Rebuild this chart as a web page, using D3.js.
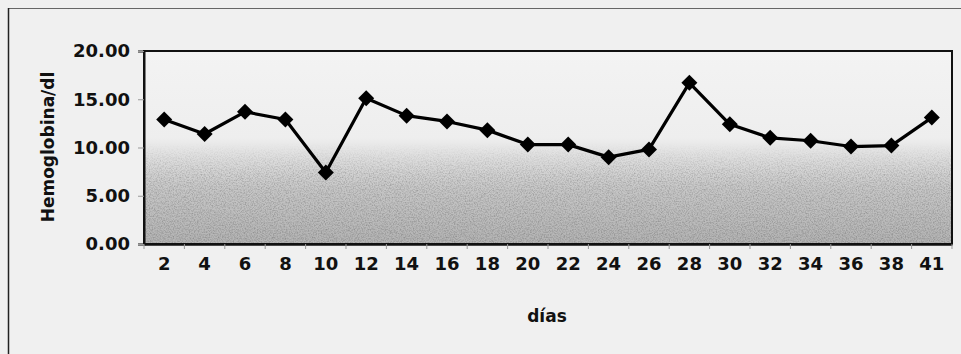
<!DOCTYPE html>
<html>
<head>
<meta charset="utf-8">
<script src="https://cdn.jsdelivr.net/npm/d3@7"></script>
<style>
  html, body { margin: 0; padding: 0; background: #f0f0f0; }
  svg { display: block; }
  text { font-family: "DejaVu Sans", "Liberation Sans", Arial, sans-serif; font-weight: bold; fill: #111; }
</style>
</head>
<body>
<script>
// Hemoglobin readings (g/dl) by day
const dias = ["2", "4", "6", "8", "10", "12", "14", "16", "18", "20", "22", "24", "26", "28", "30", "32", "34", "36", "38", "41"];
const hemoglobina = [12.9, 11.4, 13.7, 12.9, 7.4, 15.1, 13.3, 12.7, 11.8, 10.3, 10.3, 9.0, 9.8, 16.7, 12.4, 11.0, 10.7, 10.1, 10.2, 13.1];
const yTicks = [0, 5, 10, 15, 20];
const xTitle = "días";
const yTitle = "Hemoglobina/dl";

const W = 961, H = 354;
const plot = { left: 144, right: 952, top: 51, bottom: 244 };

const svg = d3.select("body").append("svg").attr("width", W).attr("height", H);
const defs = svg.append("defs");

// background gradient of the plot area: pale on top, darker grey at the base
const bg = defs.append("linearGradient").attr("id", "bgGrad")
  .attr("x1", 0).attr("y1", 0).attr("x2", 0).attr("y2", 1);
[[0, "#f3f3f3"], [0.45, "#eeeeee"], [0.55, "#dedede"], [0.72, "#c6c6c6"], [1, "#b3b3b3"]]
  .forEach(([o, c]) => bg.append("stop").attr("offset", o).attr("stop-color", c));

// mask strength for the speckled grain (stronger toward the bottom)
const gm = defs.append("linearGradient").attr("id", "grainGrad")
  .attr("x1", 0).attr("y1", 0).attr("x2", 0).attr("y2", 1);
[[0, 0], [0.48, 0], [0.65, 0.65], [1, 1]]
  .forEach(([o, a]) => gm.append("stop").attr("offset", o).attr("stop-color", "#000").attr("stop-opacity", a));

const grain = defs.append("filter").attr("id", "grain")
  .attr("x", 0).attr("y", 0).attr("width", 1).attr("height", 1);
grain.append("feTurbulence").attr("type", "fractalNoise").attr("baseFrequency", 0.75)
  .attr("numOctaves", 2).attr("seed", 7).attr("result", "noise");
grain.append("feColorMatrix").attr("in", "noise").attr("type", "matrix")
  .attr("values", "0 0 0 0 0.25  0 0 0 0 0.25  0 0 0 0 0.25  1.9 0 0 0 -0.74").attr("result", "speck");
grain.append("feComposite").attr("in", "speck").attr("in2", "SourceAlpha").attr("operator", "in");

// outer frame
svg.append("line").attr("x1", 8).attr("x2", W).attr("y1", 8.5).attr("y2", 8.5)
  .attr("stroke", "#666").attr("stroke-width", 1.2);
svg.append("line").attr("x1", 8.5).attr("x2", 8.5).attr("y1", 8).attr("y2", H)
  .attr("stroke", "#222").attr("stroke-width", 1.5);

const x = d3.scaleBand().domain(dias).range([plot.left, plot.right]).padding(0);
const y = d3.scaleLinear().domain([0, 20]).range([plot.bottom, plot.top]);

// plot area fill
svg.append("rect").attr("x", plot.left).attr("y", plot.top)
  .attr("width", plot.right - plot.left).attr("height", plot.bottom - plot.top)
  .attr("fill", "url(#bgGrad)");
svg.append("rect").attr("x", plot.left).attr("y", plot.top)
  .attr("width", plot.right - plot.left).attr("height", plot.bottom - plot.top)
  .attr("fill", "url(#grainGrad)").attr("filter", "url(#grain)");

// plot border
svg.append("rect").attr("x", plot.left).attr("y", plot.top)
  .attr("width", plot.right - plot.left).attr("height", plot.bottom - plot.top)
  .attr("fill", "none").attr("stroke", "#111").attr("stroke-width", 2);

// y axis
const yAxis = svg.append("g").attr("transform", `translate(${plot.left},0)`)
  .call(d3.axisLeft(y).tickValues(yTicks).tickFormat(d3.format(".2f")).tickSize(6).tickPadding(8));
yAxis.select(".domain").attr("stroke", "#111").attr("stroke-width", 2);
yAxis.selectAll(".tick line").attr("stroke", "#999");
yAxis.selectAll("text").style("font-size", "18px").attr("fill", "#111");

// x axis: labels centred in each category, ticks on category boundaries
const xAxis = svg.append("g").attr("transform", `translate(0,${plot.bottom})`)
  .call(d3.axisBottom(x).tickSize(0).tickPadding(13));
xAxis.select(".domain").attr("stroke", "#111").attr("stroke-width", 2.5);
xAxis.selectAll("text").style("font-size", "18px").attr("fill", "#111");
const bounds = dias.map(d => x(d)).concat([plot.right]);
svg.append("g").selectAll("line").data(bounds).join("line")
  .attr("x1", d => d).attr("x2", d => d)
  .attr("y1", plot.bottom).attr("y2", plot.bottom + 5)
  .attr("stroke", "#999").attr("stroke-width", 1);

// axis titles
svg.append("text").attr("x", 547).attr("y", 322).attr("text-anchor", "middle")
  .style("font-size", "17px").text(xTitle);
svg.append("text").attr("transform", "translate(54,147) rotate(-90)").attr("text-anchor", "middle")
  .style("font-size", "17px").text(yTitle);

// series line and diamond markers
const cx = d => x(d) + x.bandwidth() / 2;
svg.append("path").datum(hemoglobina.map((v, i) => [dias[i], v]))
  .attr("fill", "none").attr("stroke", "#000").attr("stroke-width", 3.2).attr("stroke-linejoin", "round")
  .attr("d", d3.line().x(d => cx(d[0])).y(d => y(d[1])));
svg.append("g").selectAll("path").data(hemoglobina).join("path")
  .attr("transform", (v, i) => `translate(${cx(dias[i])},${y(v)})`)
  .attr("d", "M0,-8L8,0L0,8L-8,0Z").attr("fill", "#000");
</script>
</body>
</html>
